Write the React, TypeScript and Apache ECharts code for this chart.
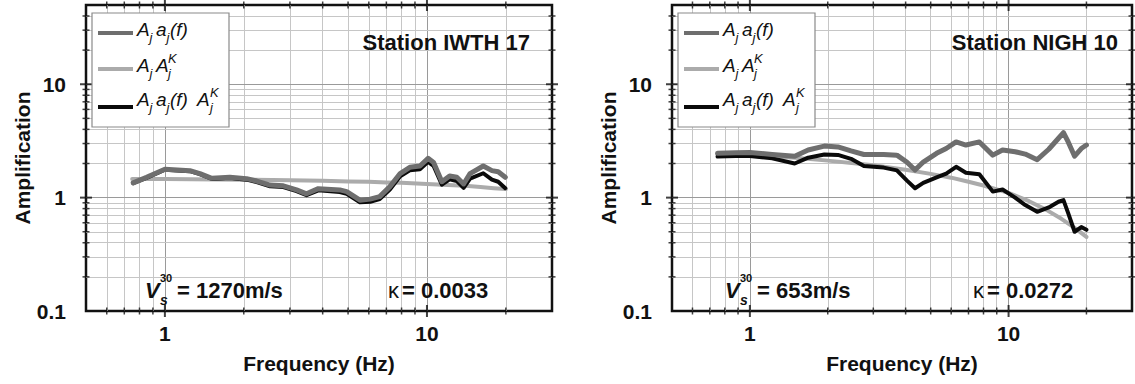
import React, { useEffect, useRef } from 'react';
import * as echarts from 'echarts';

const FONT = '"Liberation Sans", Arial, Helvetica, sans-serif';

// ---------- Left panel: Station IWTH 17 ----------
const iwthFreq = [0.757, 0.851, 1.0, 1.246, 1.36, 1.51, 1.77, 2.05, 2.24, 2.52, 2.83, 3.18, 3.47, 3.85, 4.65, 4.94, 5.55, 6.07, 6.6, 7.22, 7.9, 8.6, 9.4, 10.1, 10.6, 11.4, 12.2, 13.0, 13.8, 14.6, 16.4, 17.7, 18.7, 19.9];
const iwthSite = [1.35, 1.51, 1.78, 1.73, 1.63, 1.48, 1.51, 1.47, 1.4, 1.29, 1.27, 1.17, 1.08, 1.2, 1.17, 1.13, 0.95, 0.97, 1.02, 1.25, 1.63, 1.85, 1.9, 2.22, 2.04, 1.38, 1.55, 1.51, 1.32, 1.63, 1.9, 1.73, 1.69, 1.51];
const iwthFull = [1.34, 1.49, 1.76, 1.71, 1.61, 1.46, 1.49, 1.44, 1.37, 1.26, 1.24, 1.14, 1.05, 1.16, 1.12, 1.08, 0.91, 0.92, 0.97, 1.18, 1.54, 1.74, 1.78, 2.07, 1.9, 1.3, 1.45, 1.4, 1.22, 1.47, 1.64, 1.44, 1.38, 1.21];
const iwthKappaFreq = [0.75, 1, 2, 3, 4, 5, 6, 7, 8, 10, 12, 14, 16, 18, 20];
const iwthKappa = [1.46, 1.46, 1.44, 1.42, 1.41, 1.39, 1.38, 1.36, 1.35, 1.32, 1.29, 1.27, 1.24, 1.21, 1.19];

// ---------- Right panel: Station NIGH 10 ----------
const nighFreq = [0.75, 0.882, 1.0, 1.22, 1.49, 1.68, 1.94, 2.19, 2.46, 2.76, 3.29, 3.7, 4.04, 4.35, 4.68, 5.27, 5.74, 6.27, 6.84, 7.71, 8.69, 9.48, 10.6, 11.6, 12.9, 14.3, 15.6, 16.3, 17.0, 18.0, 19.1, 20.0];
const nighSite = [2.46, 2.49, 2.5, 2.4, 2.32, 2.63, 2.85, 2.8, 2.58, 2.4, 2.4, 2.37, 2.06, 1.75, 2.06, 2.46, 2.71, 3.1, 2.91, 3.1, 2.37, 2.63, 2.54, 2.42, 2.16, 2.67, 3.34, 3.74, 3.1, 2.32, 2.71, 2.91];
const nighFull = [2.3, 2.33, 2.33, 2.22, 2.0, 2.25, 2.4, 2.38, 2.2, 1.9, 1.84, 1.74, 1.42, 1.21, 1.35, 1.51, 1.63, 1.87, 1.66, 1.61, 1.13, 1.18, 1.0, 0.86, 0.75, 0.82, 0.92, 0.95, 0.73, 0.5, 0.55, 0.52];
const nighKappaFreq = [0.75, 1, 1.5, 2, 3, 4, 5, 6, 7, 8, 10, 12, 14, 16, 18, 20];
const nighKappa = [2.4, 2.37, 2.25, 2.12, 1.93, 1.76, 1.62, 1.5, 1.38, 1.28, 1.1, 0.93, 0.78, 0.65, 0.54, 0.45];

// ---------- Axes ----------
const xMin = 0.5;
const xMax = 30;
const yMin = 0.1;
const yMax = 50;
const xLabelValues = [1, 10];
const xLabelText = ['1', '10'];
const yLabelValues = [0.1, 1, 10];
const yLabelText = ['0.1', '1', '10'];
const xGridValues = [0.6, 0.7, 0.8, 0.9, 1, 2, 3, 4, 5, 6, 7, 8, 9, 10, 20];
const yGridValues = [0.2, 0.3, 0.4, 0.5, 0.6, 0.7, 0.8, 0.9, 1, 2, 3, 4, 5, 6, 7, 8, 9, 10, 20, 30, 40];
const majorValues = [1, 10];

const COL_SITE = '#6e6e6e';
const COL_KAPPA = '#ababab';
const COL_FULL = '#0a0a0a';

const isMajor = (v: number) => majorValues.some((m) => Math.abs(m - v) < 1e-9);

function fmt(values: number[], texts: string[]) {
  return (v: number) => {
    const i = values.findIndex((t) => Math.abs(Math.log10(v) - Math.log10(t)) < 1e-6);
    return i >= 0 ? texts[i] : '';
  };
}

function pairs(f: number[], a: number[]) {
  return f.map((x, i) => [x, a[i]]);
}

function panelSeries(idx: number, freq: number[], site: number[], full: number[], kf: number[], kv: number[]) {
  const gridLines = {
    type: 'line',
    xAxisIndex: idx,
    yAxisIndex: idx,
    data: [[1, 1]],
    symbol: 'none',
    lineStyle: { opacity: 0 },
    silent: true,
    z: 1,
    markLine: {
      silent: true,
      z: 1,
      symbol: ['none', 'none'],
      label: { show: false },
      animation: false,
      data: [
        ...xGridValues.map((v) => ({ xAxis: v, lineStyle: { color: isMajor(v) ? '#9a9a9a' : '#c6c6c6', width: 1, type: 'solid' } })),
        ...yGridValues.map((v) => ({ yAxis: v, lineStyle: { color: isMajor(v) ? '#9a9a9a' : '#c6c6c6', width: 1, type: 'solid' } })),
      ],
    },
  };
  const tickData: any[] = [];
  xGridValues.forEach((v) => {
    const s = isMajor(v) ? [2, 12] : [1.5, 7];
    tickData.push({ value: [v, yMin], symbolSize: s });
    tickData.push({ value: [v, yMax], symbolSize: s });
  });
  yGridValues.forEach((v) => {
    const s = isMajor(v) ? [12, 2] : [7, 1.5];
    tickData.push({ value: [xMin, v], symbolSize: s });
    tickData.push({ value: [xMax, v], symbolSize: s });
  });
  const ticks = {
    type: 'scatter',
    xAxisIndex: idx,
    yAxisIndex: idx,
    symbol: 'rect',
    itemStyle: { color: '#111' },
    data: tickData,
    clip: false,
    silent: true,
    z: 8,
  };
  const line = (data: number[][], color: string, width: number, z: number) => ({
    type: 'line',
    xAxisIndex: idx,
    yAxisIndex: idx,
    data,
    symbol: 'none',
    smooth: false,
    lineStyle: { color, width, cap: 'round', join: 'round' },
    z,
  });
  return [
    gridLines,
    ticks,
    line(pairs(kf, kv), COL_KAPPA, 4, 3),
    line(pairs(freq, full), COL_FULL, 4, 4),
    line(pairs(freq, site), COL_SITE, 5, 5),
  ];
}

function txt(x: number, y: number, text: string, font: { size: number; weight?: string; style?: string }, align = 'left') {
  return {
    type: 'text',
    x,
    y,
    z: 100,
    silent: true,
    style: {
      text,
      fontSize: font.size,
      fontWeight: font.weight || 'normal',
      fontStyle: font.style || 'normal',
      fontFamily: FONT,
      fill: '#111',
      align,
      verticalAlign: 'middle',
    },
  };
}

type Part = [string, number, 'n' | 'sub' | 'sup'];

function legendText(x0: number, yc: number, parts: Part[]) {
  return parts.map(([t, dx, k]) => {
    if (k === 'n') return txt(x0 + dx, yc, t, { size: 19, style: 'italic' });
    if (k === 'sub') return txt(x0 + dx, yc + 8, t, { size: 13, style: 'italic' });
    return txt(x0 + dx, yc - 7, t, { size: 13, style: 'italic' });
  });
}

function panelGraphics(off: number, station: string, stationRight: number, vsText: string, vsX: number, kappaX: number, kappaText: string) {
  const bx = 92 + off;
  const tx = 137 + off;
  const g: any[] = [
    {
      type: 'rect',
      z: 90,
      silent: true,
      shape: { x: bx, y: 13, width: 137, height: 114 },
      style: { fill: '#fff', stroke: '#8a8a8a', lineWidth: 1.2 },
    },
    { type: 'line', z: 95, silent: true, shape: { x1: 98 + off, y1: 33, x2: 133 + off, y2: 33 }, style: { stroke: COL_SITE, lineWidth: 4 } },
    { type: 'line', z: 95, silent: true, shape: { x1: 98 + off, y1: 69, x2: 133 + off, y2: 69 }, style: { stroke: COL_KAPPA, lineWidth: 4 } },
    { type: 'line', z: 95, silent: true, shape: { x1: 98 + off, y1: 107, x2: 133 + off, y2: 107 }, style: { stroke: COL_FULL, lineWidth: 4 } },
    ...legendText(tx, 29, [['A', 0, 'n'], ['j', 12.5, 'sub'], ['a', 19, 'n'], ['j', 29.5, 'sub'], ['(f)', 33, 'n']]),
    ...legendText(tx, 65, [['A', 0, 'n'], ['j', 12.5, 'sub'], ['A', 19, 'n'], ['K', 31, 'sup'], ['j', 31, 'sub']]),
    ...legendText(tx, 99, [['A', 0, 'n'], ['j', 12.5, 'sub'], ['a', 19, 'n'], ['j', 29.5, 'sub'], ['(f)', 33, 'n'], ['A', 60, 'n'], ['K', 73, 'sup'], ['j', 73, 'sub']]),
    txt(stationRight, 42, station, { size: 22, weight: 'bold' }, 'right'),
    txt(vsX, 290, 'V', { size: 22, weight: 'bold', style: 'italic' }),
    txt(vsX + 15, 300, 's', { size: 14, weight: 'bold', style: 'italic' }),
    txt(vsX + 15, 278, '30', { size: 11, weight: 'bold' }),
    txt(vsX + 32, 290, vsText, { size: 22, weight: 'bold' }),
    txt(kappaX, 290, 'κ', { size: 22 }),
    txt(kappaX + 14, 290, kappaText, { size: 22, weight: 'bold' }),
  ];
  return g;
}

const labelStyle = { fontSize: 21, fontWeight: 'bold', fontFamily: FONT, color: '#111' };
const nameStyle = { fontSize: 21, fontWeight: 'bold', fontFamily: FONT, color: '#111' };

function xAxis(idx: number) {
  return {
    type: 'log',
    logBase: 10,
    gridIndex: idx,
    min: xMin,
    max: xMax,
    name: 'Frequency (Hz)',
    nameLocation: 'middle',
    nameGap: 42,
    nameTextStyle: nameStyle,
    axisLine: { show: false },
    axisTick: { show: false },
    splitLine: { show: false },
    minorTick: { show: false },
    axisLabel: { ...labelStyle, margin: 12, formatter: fmt(xLabelValues, xLabelText) },
  };
}

function yAxis(idx: number) {
  return {
    type: 'log',
    logBase: 10,
    gridIndex: idx,
    min: yMin,
    max: yMax,
    name: 'Amplification',
    nameLocation: 'middle',
    nameGap: 50,
    nameRotate: 90,
    nameTextStyle: nameStyle,
    axisLine: { show: false },
    axisTick: { show: false },
    splitLine: { show: false },
    axisLabel: { ...labelStyle, margin: 20, formatter: fmt(yLabelValues, yLabelText) },
  };
}

export default function App() {
  const ref = useRef<HTMLDivElement>(null);
  useEffect(() => {
    if (!ref.current) return;
    const chart = echarts.init(ref.current, null, { renderer: 'svg' });
    chart.setOption({
      animation: false,
      backgroundColor: '#fff',
      grid: [
        { left: 86, top: 5, width: 466, height: 306, show: true, borderColor: '#111', borderWidth: 2.5, backgroundColor: 'transparent' },
        { left: 672, top: 5, width: 466, height: 306, show: true, borderColor: '#111', borderWidth: 2.5, backgroundColor: 'transparent' },
      ],
      xAxis: [xAxis(0), xAxis(1)],
      yAxis: [yAxis(0), yAxis(1)],
      series: [
        ...panelSeries(0, iwthFreq, iwthSite, iwthFull, iwthKappaFreq, iwthKappa),
        ...panelSeries(1, nighFreq, nighSite, nighFull, nighKappaFreq, nighKappa),
      ],
      graphic: [
        ...panelGraphics(0, 'Station IWTH 17', 530, '= 1270m/s', 145, 388, '= 0.0033'),
        ...panelGraphics(586, 'Station NIGH 10', 1118, '= 653m/s', 725, 973, '= 0.0272'),
      ],
    });
    return () => chart.dispose();
  }, []);
  return <div ref={ref} style={{ position: 'fixed', left: 0, top: 0, width: 1135, height: 384, background: '#fff' }} />;
}
